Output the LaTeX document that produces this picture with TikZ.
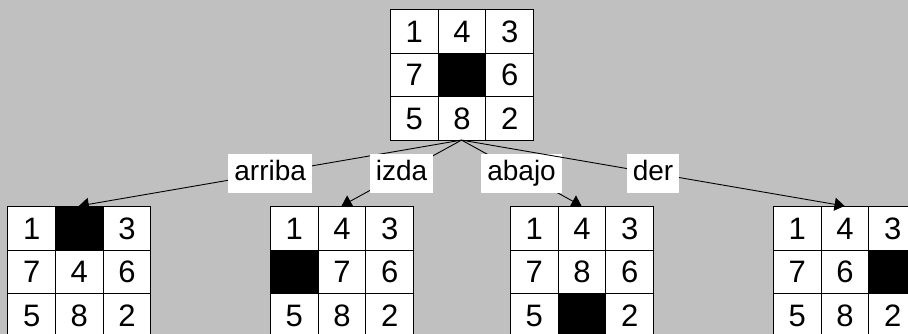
\documentclass[tikz,border=0pt]{standalone}
\usepackage{fontspec}
\setmainfont{Liberation Sans}
\usetikzlibrary{arrows.meta}
\definecolor{bggray}{RGB}{192,192,192}
\tikzset{
  cell/.style={draw=black, fill=white, line width=1pt, minimum width=47.7pt, minimum height=43.7pt,
    inner sep=0pt, anchor=north west, font=\fontsize{31}{31}\selectfont},
  hole/.style={cell, fill=black},
  board/.style={minimum width=143.1pt, minimum height=131.1pt, inner sep=0pt, outer sep=0pt, anchor=north west},
  move/.style={draw=black, line width=0.9pt, -{Triangle[length=10pt,width=13pt]}},
  lbl/.style={fill=white, font=\fontsize{28}{28}\selectfont, inner xsep=6pt, inner ysep=0pt,
    text height=20pt, text depth=6pt, minimum height=39pt}
}
\newcommand\puzzlegrid[4]{%
  \node[board] (#1) at (#2,#3) {};
  \foreach \v [count=\i from 0] in {#4} {
    \pgfmathtruncatemacro\prow{int(\i/3)}
    \pgfmathtruncatemacro\pcol{mod(\i,3)}
    \ifnum\v=0 \def\cst{hole}\else\def\cst{cell}\fi
    \node[\cst] (#1-\prow-\pcol) at ({#2+\pcol*47.7},{#3+\prow*43.7}) {\ifnum\v>0 \v\fi};
  }
}
\begin{document}
\begin{tikzpicture}[x=1pt,y=-1pt]
  \useasboundingbox (0,0) rectangle (908,334);
  \clip (0,0) rectangle (908,334);
  \fill[bggray] (0,0) rectangle (908,334);
  \puzzlegrid{root}{390}{9}{1,4,3,7,0,6,5,8,2}
  \puzzlegrid{up}{7.3}{206}{1,0,3,7,4,6,5,8,2}
  \puzzlegrid{left}{270}{206}{1,4,3,0,7,6,5,8,2}
  \puzzlegrid{down}{510}{206}{1,4,3,7,8,6,5,0,2}
  \puzzlegrid{right}{773}{206}{1,4,3,7,6,0,5,8,2}
  \draw[move] (root.south) -- node[lbl]{arriba} (up.north);
  \draw[move] (root.south) -- node[lbl]{izda} (left.north);
  \draw[move] (root.south) -- node[lbl]{abajo} (down.north);
  \draw[move] (root.south) -- node[lbl]{der} (right.north);
\end{tikzpicture}
\end{document}
